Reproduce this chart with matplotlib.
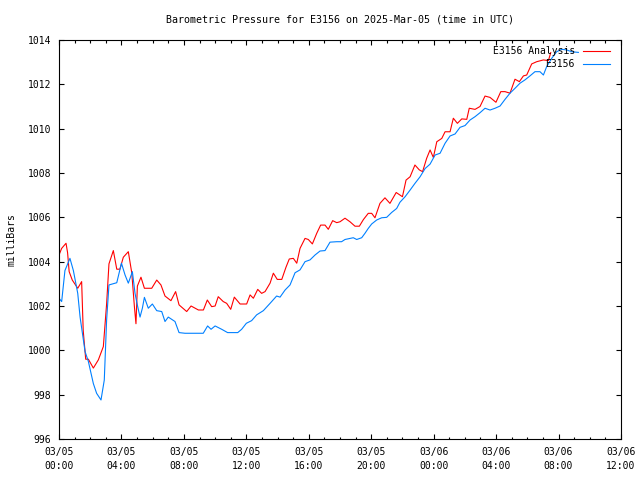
import matplotlib
matplotlib.use("Agg")
import matplotlib.pyplot as plt
from matplotlib.ticker import FixedLocator, MultipleLocator

# hours since 2025-03-05 00:00 UTC, pressure in mb
analysis_h = [0.0, 0.17, 0.45, 0.55, 0.65, 0.85, 1.2, 1.45, 1.55, 1.71, 1.88, 2.2, 2.52, 2.84,
              3.05, 3.2, 3.48, 3.7, 3.9, 4.12, 4.44, 4.66, 4.83, 4.93, 5.02, 5.25, 5.47, 5.94,
              6.26, 6.53, 6.79, 7.17, 7.47, 7.69, 8.18, 8.46, 8.93, 9.25, 9.5, 9.78, 10.0, 10.2,
              10.52, 10.74, 11.0, 11.23, 11.6, 12.02, 12.24, 12.45, 12.73, 12.98, 13.2, 13.52,
              13.73, 13.98, 14.27, 14.54, 14.75, 15.01, 15.23, 15.44, 15.76, 15.97, 16.23, 16.51,
              16.76, 17.04, 17.25, 17.53, 17.79, 18.0, 18.32, 18.64, 18.96, 19.24, 19.5, 19.81,
              20.03, 20.24, 20.56, 20.88, 21.2, 21.6, 22.0, 22.23, 22.49, 22.8, 23.08, 23.29,
              23.55, 23.77, 23.98, 24.2, 24.52, 24.73, 25.05, 25.26, 25.52, 25.8, 26.12, 26.28,
              26.65, 26.97, 27.29, 27.61, 27.99, 28.3, 28.57, 28.89, 29.21, 29.49, 29.75, 29.96,
              30.28, 30.6, 31.03, 31.35, 31.5]
analysis_p = [1004.3, 1004.6, 1004.83, 1004.4, 1003.55, 1003.17, 1002.8, 1003.1, 1000.9, 999.6,
              999.6, 999.2, 999.57, 1000.17, 1002.1, 1003.9, 1004.5, 1003.66, 1003.66, 1004.2,
              1004.45, 1003.5, 1001.97, 1001.2, 1002.9, 1003.3, 1002.8, 1002.8, 1003.17, 1002.95,
              1002.45, 1002.24, 1002.65, 1002.05, 1001.75, 1002.0, 1001.82, 1001.82, 1002.27,
              1001.97, 1002.0, 1002.42, 1002.2, 1002.12, 1001.85, 1002.4, 1002.09, 1002.09,
              1002.5, 1002.35, 1002.75, 1002.57, 1002.65, 1003.03, 1003.48, 1003.2, 1003.2,
              1003.75, 1004.12, 1004.15, 1003.93, 1004.6, 1005.05, 1005.0, 1004.8, 1005.28,
              1005.65, 1005.65, 1005.46, 1005.85, 1005.76, 1005.8, 1005.96, 1005.8, 1005.6,
              1005.6, 1005.9, 1006.18, 1006.18, 1005.98, 1006.63, 1006.88, 1006.63, 1007.12,
              1006.93, 1007.68, 1007.83, 1008.36, 1008.14, 1008.06, 1008.66, 1009.04, 1008.7,
              1009.41, 1009.56, 1009.86, 1009.86, 1010.47, 1010.24, 1010.44, 1010.42, 1010.92,
              1010.87, 1011.0, 1011.47, 1011.41, 1011.19, 1011.67, 1011.67, 1011.6, 1012.23,
              1012.12, 1012.38, 1012.42, 1012.92, 1013.02, 1013.1, 1013.07, 1013.43]

station_h = [0.0, 0.17, 0.38, 0.7, 0.92, 1.2, 1.35, 1.67, 1.88, 2.2, 2.41, 2.69, 2.9, 3.05, 3.2,
             3.7, 4.0, 4.23, 4.44, 4.7, 4.87, 5.04, 5.19, 5.34, 5.47, 5.72, 5.98, 6.26, 6.58,
             6.79, 7.0, 7.43, 7.69, 8.07, 9.24, 9.52, 9.74, 10.0, 10.42, 10.8, 11.45, 11.7, 12.0,
             12.34, 12.66, 13.09, 13.52, 13.94, 14.16, 14.48, 14.8, 15.12, 15.44, 15.76, 16.08,
             16.4, 16.72, 17.04, 17.36, 17.79, 18.1, 18.32, 18.85, 19.07, 19.39, 19.6, 19.81,
             20.03, 20.35, 20.67, 20.99, 21.31, 21.63, 21.84, 22.17, 22.49, 22.8, 23.13, 23.45,
             23.77, 24.09, 24.41, 24.73, 25.05, 25.37, 25.69, 26.01, 26.33, 26.65, 26.97, 27.29,
             27.61, 27.93, 28.25, 28.57, 28.89, 29.21, 29.53, 29.85, 30.17, 30.49, 30.81, 31.03,
             31.24, 31.56, 31.88, 32.2, 32.52, 32.84, 33.27]
station_p = [1002.35, 1002.2, 1003.6, 1004.15, 1003.6, 1002.57, 1001.5, 999.94, 999.5, 998.5,
             998.06, 997.76, 998.66, 1001.37, 1002.95, 1003.05, 1003.93, 1003.4, 1003.03,
             1003.55, 1002.57, 1001.97, 1001.5, 1001.9, 1002.39, 1001.9, 1002.09, 1001.79,
             1001.75, 1001.3, 1001.5, 1001.3, 1000.8, 1000.77, 1000.77, 1001.1, 1000.95,
             1001.1, 1000.95, 1000.8, 1000.8, 1000.95, 1001.22, 1001.34, 1001.6, 1001.79,
             1002.12, 1002.45, 1002.4, 1002.72, 1002.95, 1003.5, 1003.63, 1004.0, 1004.08,
             1004.3, 1004.48, 1004.5, 1004.88, 1004.9, 1004.9, 1005.0, 1005.08, 1005.0,
             1005.08, 1005.28, 1005.5, 1005.7, 1005.88, 1005.98, 1006.0, 1006.22, 1006.4,
             1006.68, 1006.93, 1007.23, 1007.53, 1007.83, 1008.2, 1008.4, 1008.81, 1008.89,
             1009.34, 1009.67, 1009.76, 1010.06, 1010.14, 1010.39, 1010.54, 1010.72, 1010.92,
             1010.84, 1010.92, 1011.02, 1011.32, 1011.6, 1011.82, 1012.05, 1012.2, 1012.38,
             1012.57, 1012.57, 1012.42, 1012.8, 1013.17, 1013.47, 1013.58, 1013.55, 1013.47,
             1013.44]

tick_hours = [0, 4, 8, 12, 16, 20, 24, 28, 32, 36]
tick_labels = ["03/05\n00:00", "03/05\n04:00", "03/05\n08:00", "03/05\n12:00", "03/05\n16:00",
               "03/05\n20:00", "03/06\n00:00", "03/06\n04:00", "03/06\n08:00", "03/06\n12:00"]

plt.rcParams['font.family'] = 'DejaVu Sans Mono'
plt.rcParams['font.size'] = 7

fig = plt.figure(figsize=(6.4, 4.8), dpi=100)
ax = fig.add_axes([0.0922, 0.0854, 0.8781, 0.8313])

ax.plot(analysis_h, analysis_p, color='#ff0000', lw=0.8, label='E3156 Analysis')
ax.plot(station_h, station_p, color='#0080ff', lw=0.8, label='E3156')

ax.set_xlim(0, 36)
ax.set_ylim(996, 1014)
ax.xaxis.set_major_locator(FixedLocator(tick_hours))
ax.set_xticklabels(tick_labels)
ax.xaxis.set_minor_locator(MultipleLocator(1))
ax.yaxis.set_major_locator(MultipleLocator(2))
for lbl in ax.get_xticklabels():
    lbl.set_linespacing(1.5)

ax.tick_params(which='both', direction='in', top=True, right=True, width=0.8)
ax.tick_params(which='major', length=3.5, pad=5.5)
ax.tick_params(which='minor', length=1.8)
for s in ax.spines.values():
    s.set_linewidth(0.8)

ax.set_title('Barometric Pressure for E3156 on 2025-Mar-05 (time in UTC)', fontsize=7.2, pad=12.5)
ax.set_ylabel('milliBars', labelpad=8)

ax.legend(loc='upper right', bbox_to_anchor=(0.98, 0.985), frameon=False, markerfirst=False,
          borderpad=0, borderaxespad=0, handlelength=2.8, handletextpad=0.8,
          labelspacing=0.35, fontsize=7)

fig.savefig('out.png', dpi=100)
